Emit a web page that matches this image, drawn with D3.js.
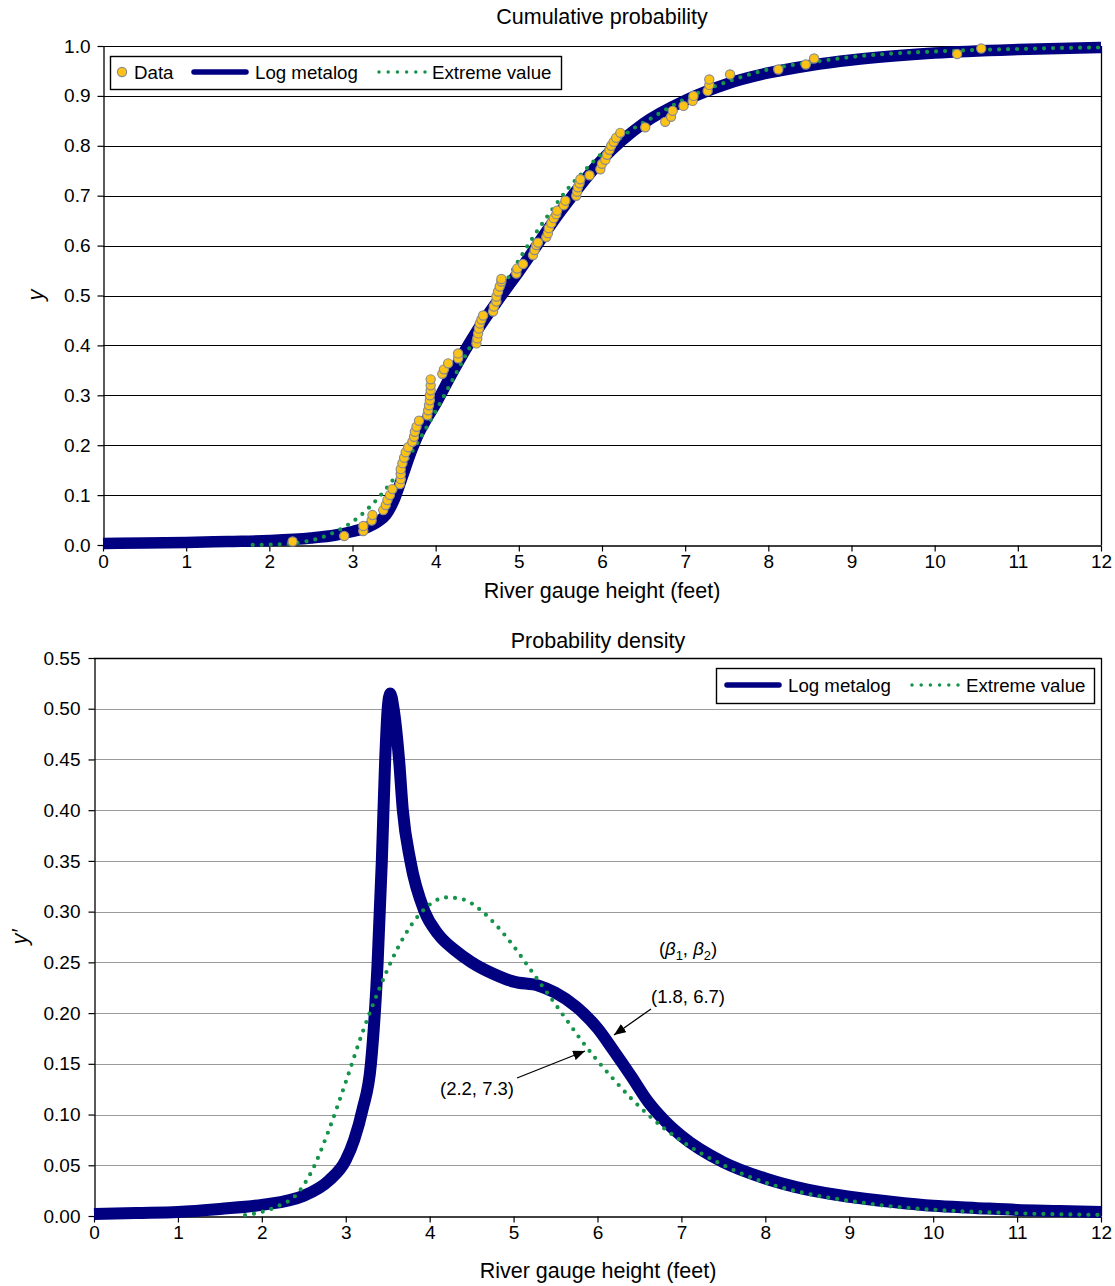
<!DOCTYPE html>
<html><head><meta charset="utf-8">
<script src="https://cdn.jsdelivr.net/npm/d3@7"></script>
<style>
body{margin:0;background:#fff;}
text{font-family:"Liberation Sans",Arial,Helvetica,sans-serif;fill:#000;}
</style>
</head><body>
<svg id="c" width="1115" height="1286"></svg>
<script>
// ---------- data ----------
const xTicks = [0,1,2,3,4,5,6,7,8,9,10,11,12];
const cdfTicks = [0,0.1,0.2,0.3,0.4,0.5,0.6,0.7,0.8,0.9,1.0];
const pdfTicks = [0,0.05,0.10,0.15,0.20,0.25,0.30,0.35,0.40,0.45,0.50,0.55];

const dataX = [2.28,2.90,3.13,3.13,3.23,3.24,3.37,3.40,3.42,3.45,3.48,3.57,3.58,3.58,3.58,3.60,3.62,3.64,3.67,3.72,3.74,3.75,3.77,3.80,3.90,3.91,3.92,3.93,3.93,3.94,3.94,3.94,4.08,4.10,4.15,4.27,4.27,4.49,4.50,4.51,4.52,4.53,4.55,4.57,4.69,4.70,4.73,4.73,4.75,4.77,4.79,4.79,4.97,4.98,5.05,5.17,5.19,5.21,5.23,5.33,5.35,5.36,5.39,5.42,5.45,5.46,5.54,5.56,5.69,5.70,5.71,5.73,5.74,5.85,5.98,6.00,6.04,6.06,6.09,6.11,6.14,6.17,6.22,6.52,6.76,6.83,6.85,6.98,7.09,7.10,7.27,7.29,7.29,7.54,8.12,8.45,8.55,10.27,10.56];
const dataY = [0.007,0.018,0.028,0.038,0.049,0.060,0.070,0.080,0.090,0.100,0.112,0.122,0.132,0.142,0.152,0.164,0.175,0.186,0.196,0.207,0.217,0.227,0.237,0.249,0.260,0.270,0.280,0.290,0.300,0.310,0.320,0.332,0.343,0.352,0.364,0.374,0.384,0.404,0.414,0.424,0.434,0.444,0.452,0.460,0.468,0.478,0.488,0.498,0.508,0.518,0.528,0.533,0.544,0.554,0.563,0.581,0.591,0.601,0.606,0.617,0.625,0.635,0.645,0.655,0.663,0.670,0.681,0.690,0.700,0.708,0.717,0.725,0.733,0.741,0.753,0.764,0.772,0.782,0.792,0.800,0.808,0.816,0.826,0.837,0.848,0.858,0.870,0.880,0.890,0.900,0.910,0.922,0.933,0.943,0.953,0.963,0.975,0.984,0.995];

const metalogCdfX = [0,0.5,1,1.5,2,2.5,2.8,3.0,3.2,3.3,3.4,3.5,3.6,3.7,3.8,3.9,4.0,4.2,4.5,4.8,5.0,5.5,6.0,6.5,7.0,7.5,8,8.5,9,9.5,10,11,12];
const metalogCdfY = [0.003,0.004,0.005,0.007,0.009,0.014,0.02,0.027,0.037,0.046,0.06,0.09,0.137,0.185,0.225,0.255,0.283,0.345,0.43,0.502,0.548,0.668,0.772,0.845,0.891,0.924,0.946,0.961,0.972,0.98,0.986,0.993,0.997];

const evCdfX = [1.8,2.0,2.2,2.4,2.6,2.8,3.0,3.2,3.4,3.6,3.8,4.0,4.2,4.4,4.6,4.8,5.0,5.2,5.4,5.6,5.8,6.0,6.2,6.4,6.6,6.8,7.0,7.5,8.0,8.5,9.0,9.5,10,10.5,11,11.5,12];
const evCdfY = [0.0002,0.0007,0.0023,0.006,0.0135,0.027,0.0465,0.075,0.112,0.157,0.21,0.268,0.33,0.393,0.455,0.515,0.571,0.624,0.672,0.716,0.752,0.785,0.813,0.837,0.856,0.876,0.894,0.928,0.953,0.967,0.978,0.985,0.989,0.992,0.994,0.996,0.997];

const metalogPdfX = [0,0.5,1,1.5,2,2.5,2.8,3.0,3.1,3.2,3.3,3.38,3.43,3.47,3.50,3.53,3.57,3.635,3.68,3.77,3.94,4.1,4.3,4.5,4.75,5.0,5.3,5.5,5.75,6.0,6.2,6.4,6.6,6.8,7.0,7.5,8,8.5,9,9.5,10,10.5,11,11.5,12];
const metalogPdfY = [0.002,0.003,0.004,0.007,0.011,0.02,0.035,0.055,0.075,0.105,0.15,0.25,0.35,0.45,0.50,0.515,0.50,0.45,0.40,0.35,0.30,0.278,0.262,0.25,0.239,0.231,0.227,0.22,0.206,0.185,0.162,0.138,0.113,0.094,0.079,0.053,0.037,0.026,0.019,0.014,0.01,0.008,0.006,0.005,0.004];

const evPdfX = [1.8,2.0,2.2,2.4,2.6,2.8,3.0,3.2,3.4,3.6,3.8,4.0,4.2,4.4,4.6,4.8,5.0,5.2,5.4,5.6,5.8,6.0,6.2,6.4,6.6,6.8,7.0,7.5,8.0,8.5,9.0,9.5,10,10.5,11,11.5,12];
const evPdfY = [0.001,0.004,0.01,0.02,0.045,0.085,0.132,0.181,0.224,0.261,0.289,0.307,0.314,0.312,0.302,0.286,0.266,0.243,0.22,0.197,0.174,0.153,0.134,0.116,0.1,0.086,0.074,0.05,0.033,0.022,0.015,0.0095,0.0062,0.0041,0.0027,0.0017,0.0011];

const seriesNames = ["Data","Log metalog","Extreme value"];

// ---------- style ----------
const NAVY = "#000080", GREEN = "#16934a", YELLOW = "#fcc216", PTSTROKE = "#8c8c8c";
const svg = d3.select("#c");

svg.append("defs").append("marker")
  .attr("id","arr").attr("viewBox","0 0 12 10").attr("refX",12).attr("refY",5)
  .attr("markerWidth",12).attr("markerHeight",10).attr("markerUnits","userSpaceOnUse")
  .attr("orient","auto")
  .append("path").attr("d","M0,0 L12,5 L0,10 Z").attr("fill","#000");

function zip(xs, ys){ return xs.map((x,i)=>[x, ys[i]]); }

function panel(o){
  const g = svg.append("g");
  const x = d3.scaleLinear().domain([0,12]).range([o.left,o.right]);
  const y = d3.scaleLinear().domain([0,o.ymax]).range([o.bottom,o.top]);
  g.selectAll("line.grid").data(o.yTicks.filter(v=>v>0)).join("line")
    .attr("x1",o.left).attr("x2",o.right)
    .attr("y1",d=>Math.round(y(d))+0.5).attr("y2",d=>Math.round(y(d))+0.5)
    .attr("stroke",d=> (Math.abs(d-o.ymax)<1e-9) ? "#000" : o.gridColor)
    .attr("stroke-width",1.2);
  g.append("line").attr("x1",o.right+0.5).attr("x2",o.right+0.5)
    .attr("y1",o.top).attr("y2",o.bottom).attr("stroke","#000").attr("stroke-width",1.3);
  const ya = g.append("g").attr("transform",`translate(${o.left+0.5},0)`)
    .call(d3.axisLeft(y).tickValues(o.yTicks).tickFormat(d3.format(o.yFmt)).tickSize(6).tickSizeOuter(0).tickPadding(o.yPad));
  const xa = g.append("g").attr("transform",`translate(0,${o.bottom+0.5})`)
    .call(d3.axisBottom(x).tickValues(xTicks).tickFormat(d3.format("d")).tickSize(6).tickSizeOuter(0).tickPadding(3));
  [ya,xa].forEach(a=>{
    a.selectAll("text").style("font-size","19px").style("font-family",'"Liberation Sans",Arial,sans-serif').attr("fill","#000");
    a.selectAll("line").attr("stroke","#000").attr("stroke-width",1.2);
    a.select(".domain").attr("stroke","#000").attr("stroke-width",1.3);
  });
  g.append("text").attr("x",o.titleX).attr("y",o.titleY).attr("text-anchor","middle")
    .style("font-size","21.5px").text(o.title);
  g.append("text").attr("x",o.titleX).attr("y",o.xLabelY).attr("text-anchor","middle")
    .style("font-size","21.5px").text("River gauge height (feet)");
  g.append("text").attr("transform",`translate(${o.yLabelX},${o.yLabelY}) rotate(-90)`)
    .attr("text-anchor","middle").style("font-size","22px").style("font-style","italic").text(o.yLabel);
  return {g,x,y};
}

// ---------- top panel: cumulative ----------
const P1 = panel({left:103,right:1101,top:46,bottom:545,ymax:1.0,yTicks:cdfTicks,yFmt:".1f",yPad:7,
  gridColor:"#000",title:"Cumulative probability",titleX:602,titleY:24,xLabelY:598,
  yLabel:"y",yLabelX:43,yLabelY:295});

const line1 = d3.line().x(d=>P1.x(d[0])).y(d=>P1.y(d[1])).curve(d3.curveMonotoneX);
P1.g.append("path").datum(zip(metalogCdfX,metalogCdfY)).attr("d",line1)
  .attr("fill","none").attr("stroke",NAVY).attr("stroke-width",11.5).attr("stroke-linejoin","round");
P1.g.append("path").datum(zip(evCdfX,evCdfY)).attr("d",line1)
  .attr("fill","none").attr("stroke",GREEN).attr("stroke-width",4.2)
  .attr("stroke-dasharray","0 9").attr("stroke-linecap","round");
P1.g.selectAll("circle.pt").data(zip(dataX,dataY)).join("circle")
  .attr("cx",d=>P1.x(d[0])).attr("cy",d=>P1.y(d[1])).attr("r",4.6)
  .attr("fill",YELLOW).attr("stroke",PTSTROKE).attr("stroke-width",1.2);

// legend top
const L1 = svg.append("g");
L1.append("rect").attr("x",110.5).attr("y",56.5).attr("width",451).attr("height",33)
  .attr("fill","#fff").attr("stroke","#000").attr("stroke-width",1.4);
L1.append("circle").attr("cx",122).attr("cy",72).attr("r",4.6).attr("fill",YELLOW).attr("stroke",PTSTROKE).attr("stroke-width",1.2);
L1.append("text").attr("x",134).attr("y",78.5).style("font-size","18.7px").text(seriesNames[0]);
L1.append("line").attr("x1",194).attr("x2",246).attr("y1",72).attr("y2",72)
  .attr("stroke",NAVY).attr("stroke-width",5.5).attr("stroke-linecap","round");
L1.append("text").attr("x",255).attr("y",78.5).style("font-size","18.7px").text(seriesNames[1]);
L1.append("line").attr("x1",379).attr("x2",425).attr("y1",72).attr("y2",72)
  .attr("stroke",GREEN).attr("stroke-width",3.5).attr("stroke-dasharray","0 9.2").attr("stroke-linecap","round");
L1.append("text").attr("x",432).attr("y",78.5).style("font-size","18.7px").text(seriesNames[2]);

// ---------- bottom panel: density ----------
const P2 = panel({left:94,right:1101,top:658,bottom:1216,ymax:0.55,yTicks:pdfTicks,yFmt:".2f",yPad:8,
  gridColor:"#9a9a9a",title:"Probability density",titleX:598,titleY:648,xLabelY:1278,
  yLabel:"y\u2032",yLabelX:27,yLabelY:937});
P2.g.append("line").attr("x1",94).attr("x2",1101.5).attr("y1",658.5).attr("y2",658.5).attr("stroke","#000").attr("stroke-width",1.3);

const line2 = d3.line().x(d=>P2.x(d[0])).y(d=>P2.y(d[1])).curve(d3.curveMonotoneX);
P2.g.append("path").datum(zip(metalogPdfX,metalogPdfY)).attr("d",line2)
  .attr("fill","none").attr("stroke",NAVY).attr("stroke-width",12).attr("stroke-linejoin","round");
P2.g.append("path").datum(zip(evPdfX,evPdfY)).attr("d",line2)
  .attr("fill","none").attr("stroke",GREEN).attr("stroke-width",4.2)
  .attr("stroke-dasharray","0 9").attr("stroke-linecap","round");

// legend bottom
const L2 = svg.append("g");
L2.append("rect").attr("x",716.5).attr("y",668.5).attr("width",378).attr("height",35)
  .attr("fill","#fff").attr("stroke","#000").attr("stroke-width",1.4);
L2.append("line").attr("x1",727).attr("x2",779).attr("y1",685).attr("y2",685)
  .attr("stroke",NAVY).attr("stroke-width",5.5).attr("stroke-linecap","round");
L2.append("text").attr("x",788).attr("y",691.5).style("font-size","18.7px").text(seriesNames[1]);
L2.append("line").attr("x1",912).attr("x2",958).attr("y1",685).attr("y2",685)
  .attr("stroke",GREEN).attr("stroke-width",3.5).attr("stroke-dasharray","0 9.2").attr("stroke-linecap","round");
L2.append("text").attr("x",966).attr("y",691.5).style("font-size","18.7px").text(seriesNames[2]);

// annotations
const ann = svg.append("g").style("font-size","18.5px");
const t1 = ann.append("text").attr("x",688).attr("y",955).attr("text-anchor","middle");
t1.append("tspan").text("(");
t1.append("tspan").style("font-style","italic").text("\u03B2");
t1.append("tspan").attr("dy",5).style("font-size","13px").text("1");
t1.append("tspan").attr("dy",-5).text(", ");
t1.append("tspan").style("font-style","italic").text("\u03B2");
t1.append("tspan").attr("dy",5).style("font-size","13px").text("2");
t1.append("tspan").attr("dy",-5).text(")");
ann.append("text").attr("x",688).attr("y",1003).attr("text-anchor","middle").text("(1.8, 6.7)");
ann.append("text").attr("x",477).attr("y",1095).attr("text-anchor","middle").text("(2.2, 7.3)");
ann.append("line").attr("x1",651).attr("y1",1009).attr("x2",614).attr("y2",1035)
  .attr("stroke","#000").attr("stroke-width",1.3).attr("marker-end","url(#arr)");
ann.append("line").attr("x1",517).attr("y1",1078).attr("x2",585).attr("y2",1051)
  .attr("stroke","#000").attr("stroke-width",1.3).attr("marker-end","url(#arr)");
</script>
</body></html>
